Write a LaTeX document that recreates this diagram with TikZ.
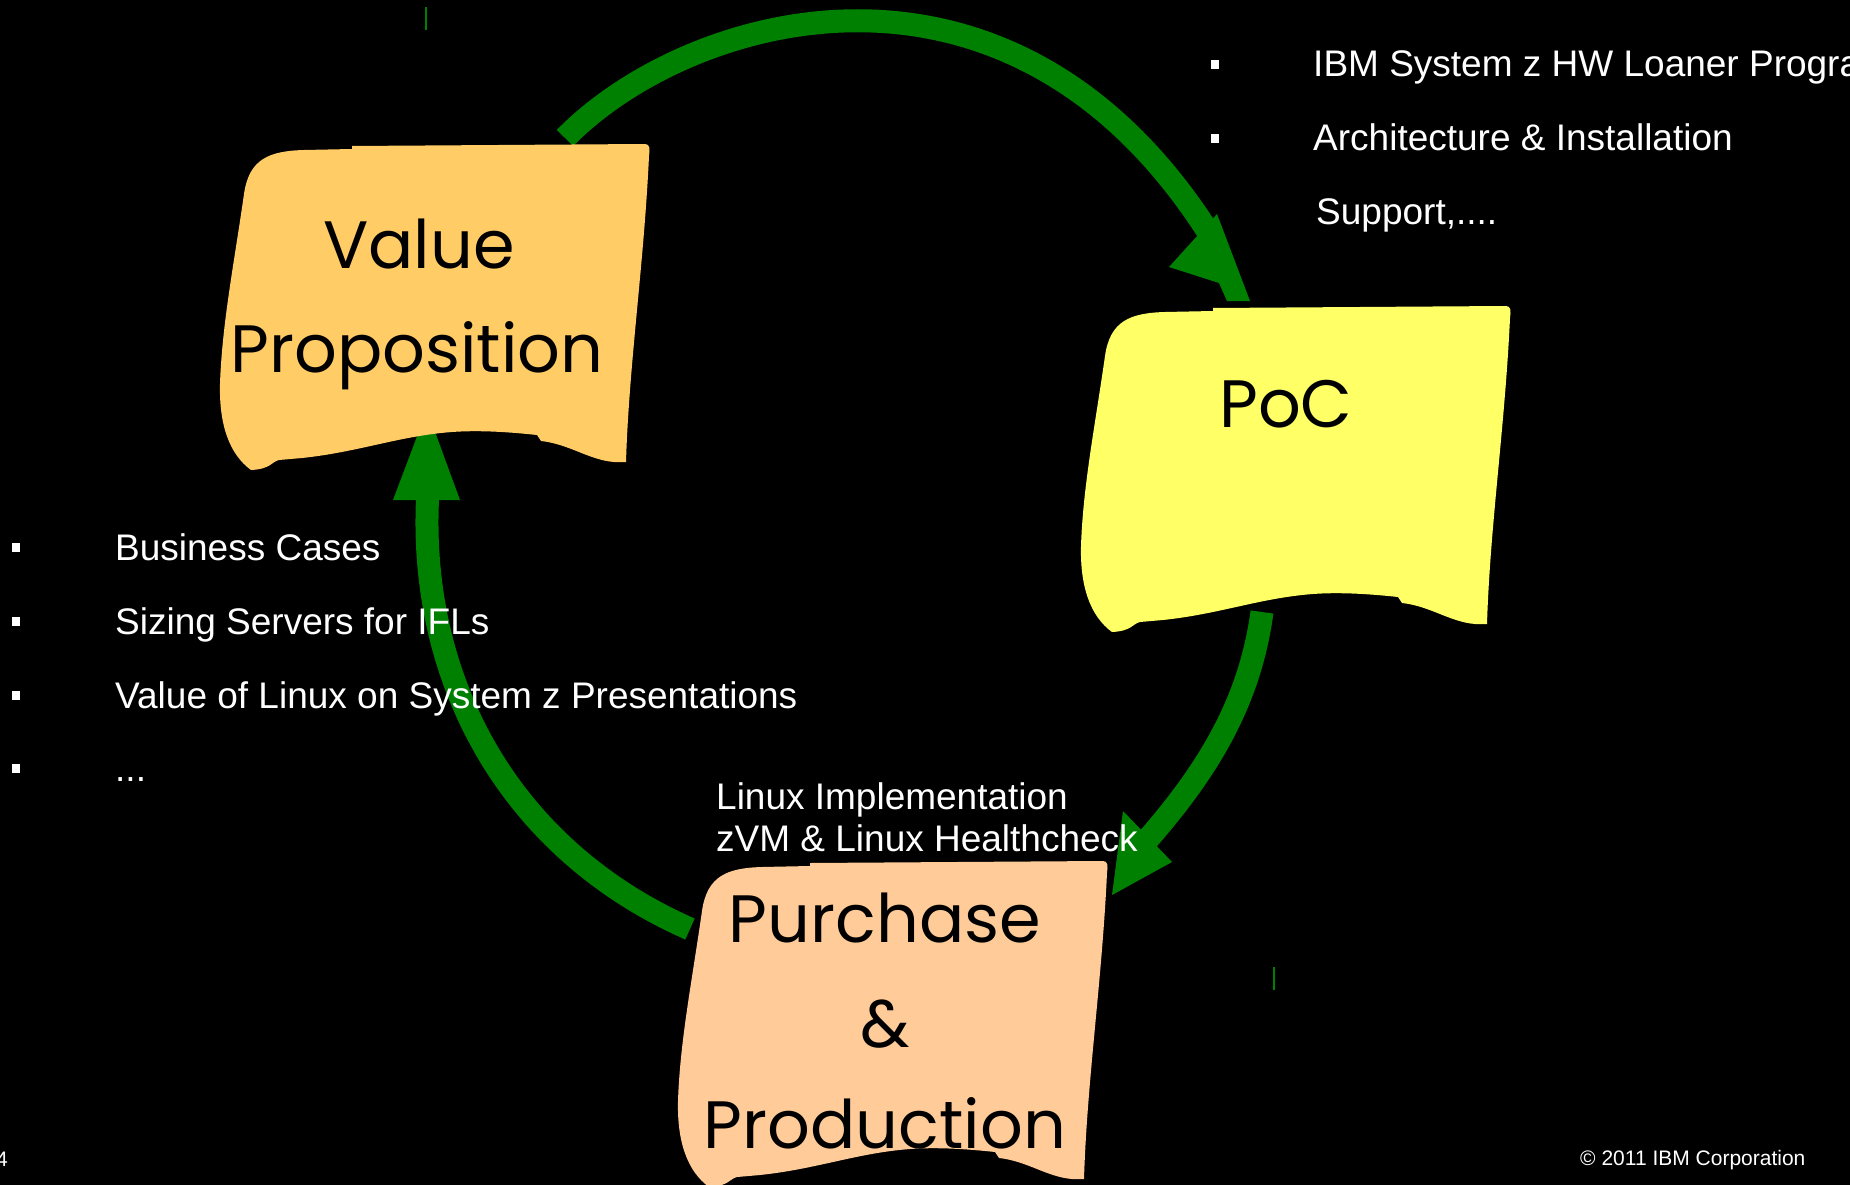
\documentclass[tikz,border=0pt]{standalone}
\usepackage{fontspec}
\setmainfont{Liberation Sans}
\newfontfamily\comicfont{Poppins}
\definecolor{arrgreen}{HTML}{008000}
\definecolor{vpfill}{HTML}{FFCC66}
\definecolor{pocfill}{HTML}{FFFF66}
\definecolor{ppfill}{HTML}{FFCC99}
\begin{document}
\begin{tikzpicture}[x=1pt,y=-1pt,
  band/.style={draw=arrgreen,line width=23pt},
  headfill/.style={fill=arrgreen},
  bullettext/.style={text=white,anchor=base west,inner sep=0pt,font=\fontsize{37}{42}\selectfont},
  bulletmark/.style={fill=white},
  boxtext/.style={text=black,anchor=base,inner sep=0pt,font=\comicfont\fontsize{67}{80}\selectfont},
  smalltext/.style={text=white,anchor=base west,inner sep=0pt,font=\fontsize{21}{25}\selectfont},
  sticky/.pic={\path[pic actions] (25,50) .. controls (30,15) and (50,7) .. (85,6) -- (133,5) -- (133,2) -- (426,0)
      .. controls (431,0) and (431,5) .. (430,12)
      .. controls (425,120) and (410,220) .. (407,318) -- (395,318)
      .. controls (370,316) and (350,300) .. (322,297) -- (318,291)
      .. controls (290,288) and (260,286) .. (233,288)
      .. controls (180,292) and (140,308) .. (83,314) -- (60,316)
      .. controls (52,318) and (52,325) .. (32,326)
      .. controls (10,310) and (0,280) .. (1,240)
      .. controls (3,180) and (15,120) .. (25,50) -- cycle;}
]
\useasboundingbox (0,0) rectangle (1850,1185);
\fill[black] (0,0) rectangle (1850,1185);

% stray marks
\draw[arrgreen,line width=2pt] (426,7) -- (426,30);
\draw[arrgreen,line width=2pt] (1274,967) -- (1274,990);

% arrow end points
\coordinate (a1s) at (565,138);
\coordinate (a1e) at (1212,238);
\coordinate (a2s) at (1262,612);
\coordinate (a2e) at (1140,848);
\coordinate (a3s) at (690,929);
\coordinate (a3e) at (428,490);

% arrows
\draw[band] (a1s) .. controls (685,15) and (1010,-85) .. (a1e);
\fill[headfill] (1169,267) -- (1217,214) -- (1250,301) -- (1227,301) -- (1219,283) -- cycle;
\draw[band] (a2s) .. controls (1250,700) and (1210,770) .. (a2e);
\fill[headfill] (1123,811) -- (1172,862) -- (1112,895) -- cycle;
\draw[band] (a3s) .. controls (510,850) and (416,680) .. (a3e);
\fill[headfill] (393,500) -- (427,410) -- (460,500) -- cycle;

% left bullets
\fill[bulletmark] (12,543) rectangle (20,552);
\fill[bulletmark] (12,617) rectangle (20,626);
\fill[bulletmark] (12,691) rectangle (20,700);
\fill[bulletmark] (12,764) rectangle (20,773);
\node[bullettext] (l1) at (115,560) {Business Cases};
\node[bullettext] (l2) at (115,634) {Sizing Servers for IFLs};
\node[bullettext] (l3) at (115,708) {Value of Linux on System z Presentations};
\node[bullettext] (l4) at (115,781) {...};

% right bullets
\fill[bulletmark] (1211,60) rectangle (1219,69);
\fill[bulletmark] (1211,134) rectangle (1219,143);
\node[bullettext] (r1) at (1313,77) {IBM System z HW Loaner Progra};
\node[bullettext] (r2) at (1313,151) {Architecture \& Installation};
\node[bullettext] (r3) at (1316,225) {Support,....};

% bottom label
\node[bullettext] (m1) at (716,809) {Linux Implementation};
\node[bullettext] (m2) at (716,851) {zVM \& Linux Healthcheck};

% boxes
\pic[fill=vpfill] at (219,144) {sticky};
\pic[fill=pocfill] at (1080,306) {sticky};
\pic[fill=ppfill] at (677,861) {sticky};

\node[boxtext] (vp1) at (419,268) {Value};
\node[boxtext] (vp2) at (417,372) {Proposition};
\node[boxtext] (poc) at (1286,427) {PoC};
\node[boxtext] (pp1) at (885,942) {Purchase};
\node[boxtext] (pp2) at (885,1047) {\&};
\node[boxtext] (pp3) at (885,1148) {Production};

% footer
\node[smalltext] (pg) at (-4,1166) {4};
\node[smalltext] (copy) at (1580,1165) {\textcopyright{} 2011 IBM Corporation};
\end{tikzpicture}
\end{document}
